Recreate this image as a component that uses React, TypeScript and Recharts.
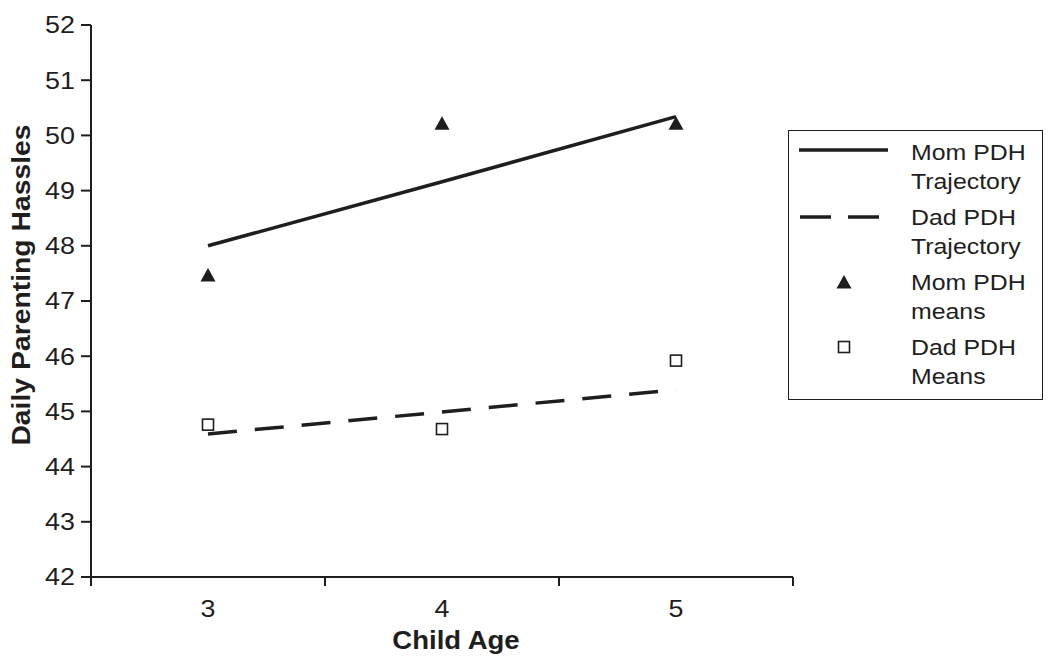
import { ComposedChart, Line, Scatter, XAxis, YAxis, Legend } from "recharts";

const ages = [3, 4, 5];
const momTrajectory = [48.0, 49.16, 50.34];
const dadTrajectory = [44.59, 44.99, 45.39];
const momMeans = [47.47, 50.22, 50.22];
const dadMeans = [44.76, 44.68, 45.92];
const yTicks = [42, 43, 44, 45, 46, 47, 48, 49, 50, 51, 52];
// labels sit on whole ages, tick marks on the category borders
const xTicks = [2.5, 3, 3.5, 4, 4.5, 5, 5.5];

const INK = "#1e1e1e";
const FONT = "Arial, 'Liberation Sans', Helvetica, sans-serif";
// the original type is set a little wider than Arial
const stretch = (x: number, y: number, s: number) => `translate(${x} ${y}) scale(${s} 1) translate(${-x} ${-y})`;

const data = ages.map((age, i) => ({
  age,
  momTraj: momTrajectory[i],
  dadTraj: dadTrajectory[i],
  momMean: momMeans[i],
  dadMean: dadMeans[i],
}));

const legendItems = [
  { name: ["Mom PDH", "Trajectory"], kind: "solid" },
  { name: ["Dad PDH", "Trajectory"], kind: "dashed" },
  { name: ["Mom PDH", "means"], kind: "triangle" },
  { name: ["Dad PDH", "Means"], kind: "square" },
];

const Triangle = ({ cx, cy }: any) => (
  <path d={`M${cx},${cy - 7} L${cx + 7.5},${cy + 6.5} L${cx - 7.5},${cy + 6.5} Z`} fill={INK} />
);

const Square = ({ cx, cy }: any) => (
  <rect x={cx - 5.5} y={cy - 5.5} width={11} height={11} fill="#fff" stroke={INK} strokeWidth={1.6} />
);

const AgeTick = ({ x, y, payload }: any) => {
  const v = payload.value;
  if (Number.isInteger(v)) {
    return (
      <text
        x={x}
        y={y + 30}
        textAnchor="middle"
        fontSize={24}
        fontFamily={FONT}
        fill={INK}
        transform={stretch(x, y + 30, 1.12)}
      >
        {v}
      </text>
    );
  }
  return <line x1={x} x2={x} y1={y - 10} y2={y - 1} stroke={INK} strokeWidth={2} />;
};

const ValueTick = ({ x, y, payload }: any) => (
  <text
    x={x}
    y={y}
    textAnchor="end"
    dominantBaseline="central"
    fontSize={24}
    fontFamily={FONT}
    fill={INK}
    transform={stretch(x, y, 1.12)}
  >
    {payload.value}
  </text>
);

const YTitle = ({ viewBox }: any) => {
  const cx = 21;
  const cy = viewBox.y + viewBox.height / 2 - 16;
  return (
    <text
      x={cx}
      y={cy}
      transform={`rotate(-90 ${cx} ${cy}) ${stretch(cx, cy, 1.09)}`}
      textAnchor="middle"
      dominantBaseline="central"
      fontSize={26}
      fontWeight="bold"
      fontFamily={FONT}
      fill={INK}
    >
      Daily Parenting Hassles
    </text>
  );
};

const XTitle = ({ viewBox }: any) => {
  const cx = viewBox.x + viewBox.width / 2 + 14;
  const cy = viewBox.y + 72;
  return (
    <text
      x={cx}
      y={cy}
      textAnchor="middle"
      fontSize={25}
      fontWeight="bold"
      fontFamily={FONT}
      fill={INK}
      transform={stretch(cx, cy, 1.1)}
    >
      Child Age
    </text>
  );
};

const Symbol = ({ kind }: { kind: string }) => (
  <svg width={89} height={29} style={{ display: "block" }}>
    {kind === "solid" && <line x1={0} x2={89} y1={12} y2={12} stroke={INK} strokeWidth={3.5} />}
    {kind === "dashed" && (
      <line x1={1} x2={80} y1={14} y2={14} stroke={INK} strokeWidth={3.5} strokeDasharray="31 17" />
    )}
    {kind === "triangle" && <Triangle cx={45} cy={14} />}
    {kind === "square" && <Square cx={45} cy={14} />}
  </svg>
);

const LegendBox = () => (
  <div
    style={{
      border: `1.5px solid ${INK}`,
      padding: "7px 8px 8px 10px",
      width: 255,
      boxSizing: "border-box",
      fontFamily: FONT,
      fontSize: 22,
      lineHeight: "29px",
      color: INK,
      background: "#fff",
    }}
  >
    {legendItems.map((it, i) => (
      <div key={i} style={{ display: "flex", marginBottom: i < legendItems.length - 1 ? 7 : 0 }}>
        <div style={{ width: 89, marginRight: 23 }}>
          <Symbol kind={it.kind} />
        </div>
        <div>
          {it.name.map((n) => (
            <div key={n}>
              <span style={{ display: "inline-block", transform: "scaleX(1.13)", transformOrigin: "left" }}>{n}</span>
            </div>
          ))}
        </div>
      </div>
    ))}
  </div>
);

export default function App() {
  return (
    <div style={{ position: "absolute", left: 0, top: 0, background: "#fff" }}>
      <ComposedChart width={1050} height={668} data={data} margin={{ top: 25, right: 257, left: 0, bottom: 0 }}>
        <XAxis
          dataKey="age"
          type="number"
          domain={[2.5, 5.5]}
          ticks={xTicks}
          interval={0}
          height={91}
          tickSize={10}
          tickMargin={0}
          tickLine={false}
          axisLine={{ stroke: INK, strokeWidth: 2 }}
          tick={<AgeTick />}
          label={<XTitle />}
        />
        <YAxis
          type="number"
          domain={[42, 52]}
          ticks={yTicks}
          interval={0}
          width={91}
          tickSize={10}
          tickMargin={6}
          axisLine={{ stroke: INK, strokeWidth: 2 }}
          tickLine={{ stroke: INK, strokeWidth: 2 }}
          tick={<ValueTick />}
          label={<YTitle />}
        />
        <Legend
          layout="vertical"
          align="center"
          verticalAlign="middle"
          wrapperStyle={{ left: 788, top: 130, width: 255 }}
          content={() => <LegendBox />}
        />
        <Line
          dataKey="momTraj"
          stroke={INK}
          strokeWidth={3.5}
          dot={false}
          activeDot={false}
          isAnimationActive={false}
        />
        <Line
          dataKey="dadTraj"
          stroke={INK}
          strokeWidth={3.5}
          strokeDasharray="29 18"
          dot={false}
          activeDot={false}
          isAnimationActive={false}
        />
        <Scatter dataKey="momMean" shape={<Triangle />} isAnimationActive={false} />
        <Scatter dataKey="dadMean" shape={<Square />} isAnimationActive={false} />
      </ComposedChart>
    </div>
  );
}
